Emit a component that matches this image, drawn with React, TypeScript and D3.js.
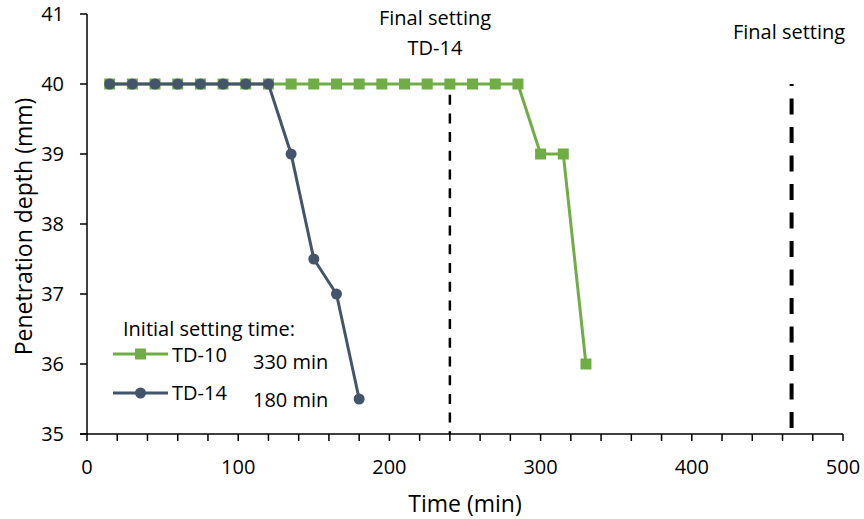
import React from "react";
import * as d3 from "d3";

const td10Time = [15, 30, 45, 60, 75, 90, 105, 120, 135, 150, 165, 180, 195, 210, 225, 240, 255, 270, 285, 300, 315, 330];
const td10Depth = [40, 40, 40, 40, 40, 40, 40, 40, 40, 40, 40, 40, 40, 40, 40, 40, 40, 40, 40, 39, 39, 36];
const td14Time = [15, 30, 45, 60, 75, 90, 105, 120, 135, 150, 165, 180];
const td14Depth = [40, 40, 40, 40, 40, 40, 40, 40, 39, 37.5, 37, 35.5];
const xTicks = [0, 100, 200, 300, 400, 500];
const yTicks = [35, 36, 37, 38, 39, 40, 41];
const finalSettingTD14 = 240;
const finalSettingTD10 = 466;

const GREEN = "#70AD47";
const BLUE = "#44546A";
const FONT = "'Open Sans', sans-serif";

export default function App() {
  const W = 864, H = 519;
  const x = d3.scaleLinear().domain([0, 500]).range([87, 843]);
  const y = d3.scaleLinear().domain([35, 41]).range([434, 14]);
  const minor = d3.range(0, 501, 20);
  const line = d3.line<[number, number]>().x(d => x(d[0])).y(d => y(d[1]));
  const d10 = td10Time.map((t, i) => [t, td10Depth[i]] as [number, number]);
  const d14 = td14Time.map((t, i) => [t, td14Depth[i]] as [number, number]);

  return (
    <svg width={W} height={H} style={{ position: "absolute", left: 0, top: 0, background: "#fff" }} fontFamily={FONT}>
      {/* dashed final setting lines */}
      <line x1={x(finalSettingTD14)} x2={x(finalSettingTD14)} y1={y(40)} y2={y(35)} stroke="#000" strokeWidth={2.5} strokeDasharray="10,8.7" strokeDashoffset={8} />
      <line x1={x(finalSettingTD10)} x2={x(finalSettingTD10)} y1={y(40)} y2={y(35.05)} stroke="#000" strokeWidth={4} strokeDasharray="16,12.5" strokeDashoffset={14} />
      {/* axes */}
      <line x1={x(0)} x2={x(0)} y1={y(41)} y2={y(35)} stroke="#000" strokeWidth={1.5} />
      <line x1={x(0) - 7} x2={x(500)} y1={y(35)} y2={y(35)} stroke="#000" strokeWidth={1.5} />
      {yTicks.map(t => (
        <g key={t}>
          <line x1={x(0) - 7} x2={x(0)} y1={y(t)} y2={y(t)} stroke="#000" strokeWidth={1.5} />
          <text x={64} y={y(t)} dy="0.35em" textAnchor="end" fontSize={20} fill="#000">{t}</text>
        </g>
      ))}
      {minor.map(t => (
        <line key={t} x1={x(t)} x2={x(t)} y1={y(35)} y2={y(35) + 7} stroke="#000" strokeWidth={1.5} />
      ))}
      {xTicks.map(t => (
        <text key={t} x={x(t)} y={467} dy="0.35em" textAnchor="middle" fontSize={20} fill="#000">{t}</text>
      ))}
      <text x={465} y={504} dy="0.35em" textAnchor="middle" fontSize={23} fill="#000">Time (min)</text>
      <text transform={`translate(24,${(95 + 358) / 2}) rotate(-90)`} textAnchor="middle" dy="0.35em" fontSize={23} fill="#000">Penetration depth (mm)</text>
      {/* series */}
      <path d={line(d10) || ""} fill="none" stroke={GREEN} strokeWidth={3} />
      {d10.map((d, i) => (
        <rect key={i} x={x(d[0]) - 5.5} y={y(d[1]) - 5.5} width={11} height={11} fill={GREEN} />
      ))}
      <path d={line(d14) || ""} fill="none" stroke={BLUE} strokeWidth={3} />
      {d14.map((d, i) => (
        <circle key={i} cx={x(d[0])} cy={y(d[1])} r={5.5} fill={BLUE} />
      ))}
      {/* annotations */}
      <text x={435} y={18} dy="0.35em" textAnchor="middle" fontSize={20} fill="#000">Final setting</text>
      <text x={435} y={48} dy="0.35em" textAnchor="middle" fontSize={20} fill="#000">TD-14</text>
      <text x={789} y={32} dy="0.35em" textAnchor="middle" fontSize={20} fill="#000">Final setting</text>
      {/* legend */}
      <text x={123} y={329} dy="0.35em" fontSize={20} fill="#000">Initial setting time:</text>
      <line x1={113} x2={168} y1={354} y2={354} stroke={GREEN} strokeWidth={3} />
      <rect x={135} y={348.5} width={11} height={11} fill={GREEN} />
      <text x={172} y={355} dy="0.35em" fontSize={20} fill="#000">TD-10</text>
      <text x={253} y={362} dy="0.35em" fontSize={20} fill="#000">330 min</text>
      <line x1={113} x2={168} y1={393} y2={393} stroke={BLUE} strokeWidth={3} />
      <circle cx={140.5} cy={393} r={5.5} fill={BLUE} />
      <text x={172} y={393} dy="0.35em" fontSize={20} fill="#000">TD-14</text>
      <text x={253} y={400} dy="0.35em" fontSize={20} fill="#000">180 min</text>
    </svg>
  );
}
